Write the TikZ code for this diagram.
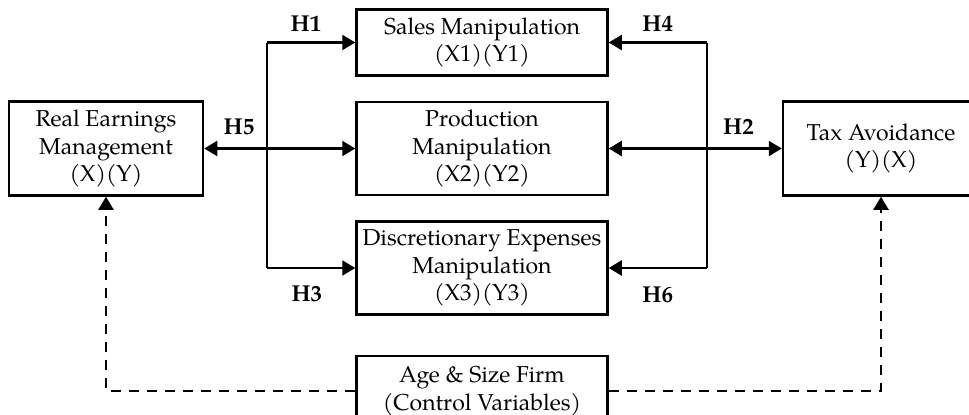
\documentclass[tikz,border=0pt]{standalone}
\usepackage{fontspec}
\setmainfont{TeX Gyre Pagella}
\usepackage{tikz}
\usetikzlibrary{shapes, positioning, calc, arrows.meta}

\begin{document}
\begin{tikzpicture}[
    auto, align=center,
    font = \fontsize{11.5}{13.75}\selectfont,
    box/.style = {
      rectangle, draw, line width = 1.25pt, inner sep = 0pt,
      minimum width = 125.5pt, minimum height = 46.5pt
    },
    side/.style = {
      box, minimum width = 98pt, minimum height = 47pt
    },
    path/.style = {
      line width = 1.1pt, -{Triangle[length = 6.5pt, width = 7.5pt]}
    },
    both/.style = {
      line width = 1.1pt,
      {Triangle[length = 6.5pt, width = 7.5pt]}-{Triangle[length = 6.5pt, width = 7.5pt]}
    },
    link/.style = {
      line width = 1.1pt
    },
    % dashed links from the control variables
    control/.style = {
      path, dash pattern = on 5pt off 4pt
    },
    hyp/.style = {
      font = \fontsize{11.5}{13.75}\selectfont\bfseries, inner sep = 0pt
    },
    ]
\useasboundingbox (0,0) rectangle (484.5pt,-207pt);

\node  [box]  (prod)  at (241pt,-74.25pt)  {Production\\Manipulation\\(X2)(Y2)};
\node  [box, minimum height = 33pt]  (sales)  [above = 12pt of prod]  {Sales Manipulation\\(X1)(Y1)};
\node  [box]  (disc)  [below = 12pt of prod]  {Discretionary Expenses\\Manipulation\\(X3)(Y3)};
\node  [side, minimum width = 97pt]  (rem)  [left = 75.5pt of prod]  {Real Earnings\\Management\\(X)(Y)};
\node  [side]  (tax)  [right = 86.5pt of prod]  {Tax Avoidance\\(Y)(X)};
\node  [box, minimum height = 35pt]  (ctrl)  [below = 19.5pt of disc]  {Age \& Size Firm\\(Control Variables)};

\node  [coordinate]  (c1)  [left = 44pt of sales.west]  {};
\node  [coordinate]  (c2)  [left = 44pt of disc.west]  {};
\node  [coordinate]  (c3)  [right = 49pt of sales.east]  {};
\node  [coordinate]  (c4)  [right = 49pt of disc.east]  {};

\draw  [link]  (c1)  --  (c2);
\draw  [link]  (c3)  --  (c4);
\draw  [path]  (c1)  to node  [hyp, above = 5pt, pos = .44]  (h1)  {H1}  (sales);
\draw  [path]  (c2)  to node  [hyp, below = 8.5pt, pos = .45]  (h3)  {H3}  (disc);
\draw  [path]  (c3)  to node  [hyp, above = 5pt, pos = .5]  (h4)  {H4}  (sales);
\draw  [path]  (c4)  to node  [hyp, below = 8.8pt, pos = .5]  (h6)  {H6}  (disc);
\draw  [both]  (rem)  to node  [hyp, above = 6.5pt, pos = .23]  (h5)  {H5}  (prod);
\draw  [both]  (prod)  to node  [hyp, above = 6.5pt, pos = .75]  (h2)  {H2}  (tax);

\draw  [control]  (ctrl.west)  -|  (rem.south);
\draw  [control]  (ctrl.east)  -|  (tax.south);
\end{tikzpicture}
\end{document}
